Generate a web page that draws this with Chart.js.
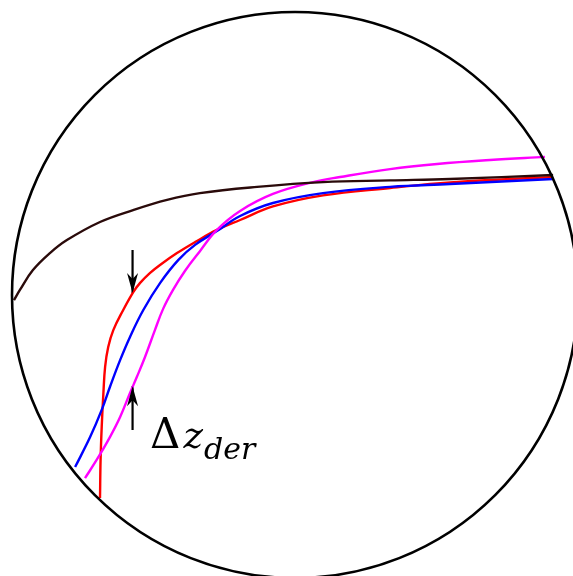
<!DOCTYPE html>
<html>
<head>
<meta charset="utf-8">
<script src="https://cdn.jsdelivr.net/npm/chart.js@4.4.1/dist/chart.umd.min.js"></script>
<style>
    body { margin: 0; background: #fff; }
    canvas { display: block; }
</style>
</head>
<body>
<canvas id="chartId" width="573" height="576"></canvas>
<script>
// All coordinates are in disk units: the boundary circle has radius 1 and sits at the origin
const circleCenter = [0, 0];
const circleRadius = 1;

// Dark profile (far field)
const darkX = [-0.993, -0.972, -0.926, -0.866, -0.806, -0.689, -0.572, -0.452, -0.336, -0.134, 0.099, 0.336, 0.548, 0.912];
const darkY = [-0.018, 0.018, 0.088, 0.148, 0.194, 0.258, 0.300, 0.336, 0.360, 0.382, 0.399, 0.405, 0.410, 0.424];

// Red profile
const redX = [-0.689, -0.687, -0.683, -0.677, -0.671, -0.660, -0.642, -0.607, -0.571, -0.548, -0.512, -0.477, -0.417, -0.353, -0.276, -0.194, -0.078, 0.099, 0.336, 0.548, 0.912];
const redY = [-0.717, -0.583, -0.466, -0.346, -0.254, -0.184, -0.124, -0.053, 0.011, 0.042, 0.078, 0.106, 0.148, 0.187, 0.230, 0.265, 0.313, 0.352, 0.378, 0.398, 0.417];

// Blue profile
const blueX = [-0.777, -0.724, -0.683, -0.654, -0.618, -0.583, -0.536, -0.477, -0.412, -0.353, -0.276, -0.194, -0.078, 0.099, 0.336, 0.548, 0.912];
const blueY = [-0.608, -0.502, -0.406, -0.325, -0.230, -0.148, -0.053, 0.042, 0.124, 0.177, 0.226, 0.279, 0.325, 0.360, 0.382, 0.392, 0.410];

// Magenta profile
const magentaX = [-0.742, -0.701, -0.654, -0.618, -0.583, -0.559, -0.530, -0.495, -0.466, -0.431, -0.389, -0.336, -0.276, -0.194, -0.078, 0.064, 0.159, 0.336, 0.502, 0.689, 0.883];
const magentaY = [-0.647, -0.583, -0.502, -0.431, -0.346, -0.290, -0.219, -0.124, -0.049, 0.018, 0.085, 0.155, 0.230, 0.297, 0.357, 0.399, 0.417, 0.445, 0.463, 0.477, 0.488];

// Arrows marking the gap between the red and magenta profiles
const arrowX = [-0.574, -0.574];
const downArrowY = [0.159, 0.007];
const upArrowY = [-0.477, -0.322];

// Label next to the lower arrow
const labelAnchor = [-0.512, -0.541];
const labelParts = ['Δ', 'z', 'der'];

const toPoints = (xs, ys) => xs.map((x, i) => ({ x, y: ys[i] }));

const profile = (xs, ys, color) => ({
    data: toPoints(xs, ys),
    borderColor: color,
    borderWidth: 2.4,
    pointRadius: 0,
    fill: false,
    tension: 0.4
});

const arrow = (xs, ys) => ({
    data: toPoints(xs, ys),
    borderColor: '#000',
    borderWidth: 2.2,
    pointRadius: 0,
    fill: false,
    tension: 0,
    arrow: true
});

// Boundary circle drawn over the profiles
const circlePlugin = {
    id: 'circle',
    afterDatasetsDraw(chart) {
        const { ctx, scales: { x, y } } = chart;
        const cx = x.getPixelForValue(circleCenter[0]);
        const cy = y.getPixelForValue(circleCenter[1]);
        const r = x.getPixelForValue(circleCenter[0] + circleRadius) - cx;
        ctx.save();
        ctx.beginPath();
        ctx.arc(cx, cy, r, 0, Math.PI * 2);
        ctx.lineWidth = 2.6;
        ctx.strokeStyle = '#000';
        ctx.stroke();
        ctx.restore();
    }
};

// Arrowheads at the last point of each arrow dataset
const arrowHeadPlugin = {
    id: 'arrowHeads',
    afterDatasetsDraw(chart) {
        const ctx = chart.ctx;
        chart.data.datasets.forEach((ds, i) => {
            if (!ds.arrow) return;
            const pts = chart.getDatasetMeta(i).data;
            const tip = pts[pts.length - 1];
            const prev = pts[pts.length - 2];
            const angle = Math.atan2(tip.y - prev.y, tip.x - prev.x);
            ctx.save();
            ctx.translate(tip.x, tip.y);
            ctx.rotate(angle);
            ctx.beginPath();
            ctx.moveTo(0, 0);
            ctx.lineTo(-20, -5.5);
            ctx.lineTo(-14, 0);
            ctx.lineTo(-20, 5.5);
            ctx.closePath();
            ctx.fillStyle = '#000';
            ctx.fill();
            ctx.restore();
        });
    }
};

// Δz_der label
const labelPlugin = {
    id: 'label',
    afterDraw(chart) {
        const { ctx, scales: { x, y } } = chart;
        let px = x.getPixelForValue(labelAnchor[0]);
        const py = y.getPixelForValue(labelAnchor[1]);
        ctx.save();
        ctx.fillStyle = '#000';
        ctx.textBaseline = 'alphabetic';

        ctx.font = '42px "DejaVu Serif"';
        ctx.fillText(labelParts[0], px, py);
        px += ctx.measureText(labelParts[0]).width + 3;

        ctx.font = 'italic 37px "DejaVu Serif"';
        ctx.fillText(labelParts[1], px, py);
        px += ctx.measureText(labelParts[1]).width + 1;

        ctx.font = 'italic 30px "DejaVu Serif"';
        ctx.fillText(labelParts[2], px, py + 11);
        ctx.restore();
    }
};

const chart = new Chart(document.getElementById('chartId').getContext('2d'), {
    type: 'line',
    data: {
        datasets: [
            profile(darkX, darkY, '#2a0a0a'),
            profile(magentaX, magentaY, '#ff00ff'),
            profile(blueX, blueY, '#0000ff'),
            profile(redX, redY, '#ff0000'),
            arrow(arrowX, downArrowY),
            arrow(arrowX, upArrowY)
        ]
    },
    options: {
        responsive: false,
        animation: false,
        layout: { padding: 0 },
        plugins: {
            legend: { display: false },
            tooltip: { enabled: false }
        },
        scales: {
            x: { type: 'linear', display: false, min: -1.0424, max: 0.9823 },
            y: { type: 'linear', display: false, min: -0.9929, max: 1.0424 }
        }
    },
    plugins: [circlePlugin, arrowHeadPlugin, labelPlugin]
});
</script>
</body>
</html>
